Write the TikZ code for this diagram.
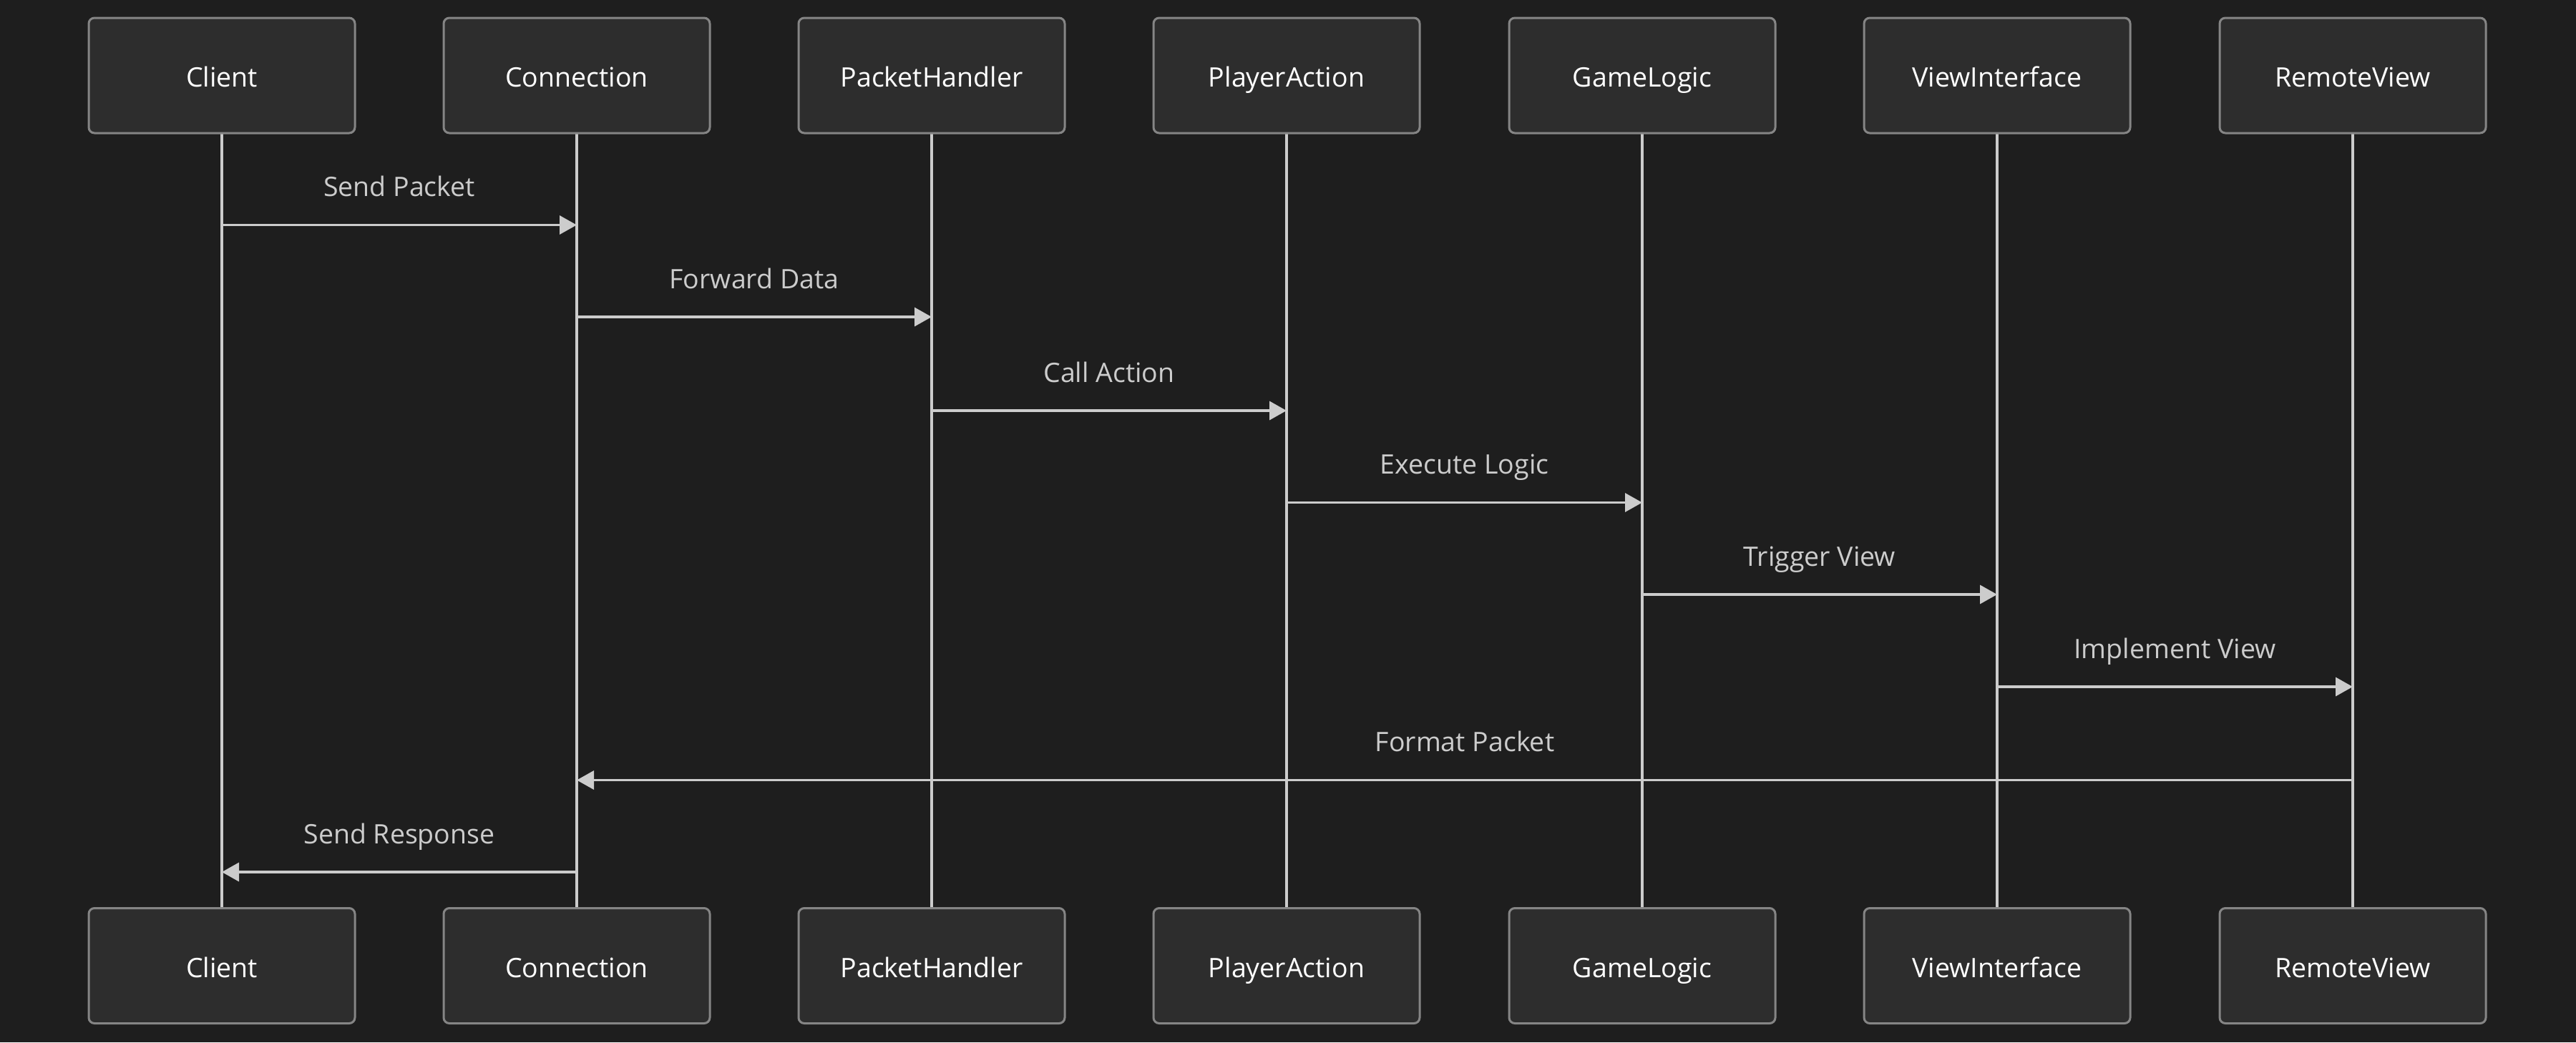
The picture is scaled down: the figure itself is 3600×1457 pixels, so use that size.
\documentclass[tikz,border=0pt]{standalone}
\usepackage{fontspec}
\setmainfont{Open Sans}
\usetikzlibrary{arrows.meta}
\definecolor{bg}{HTML}{1E1E1E}
\definecolor{boxfill}{HTML}{2D2D2D}
\definecolor{boxline}{HTML}{858585}
\definecolor{lifec}{HTML}{CCCCCC}
\definecolor{msgtext}{HTML}{CCCCCC}
\tikzset{
  actor/.style={draw=boxline, line width=3pt, fill=boxfill, rounded corners=8pt,
    minimum width=372pt, minimum height=161pt, text=white, inner sep=0pt,
    text height=32pt, text depth=0pt,
    font=\fontsize{37.5}{40}\selectfont},
  lifeline/.style={draw=lifec, line width=4.5pt},
  msg/.style={draw=lifec, line width=3.5pt, -{Triangle[length=24pt,width=26pt]}},
  msglabel/.style={text=msgtext, font=\fontsize{37.5}{40}\selectfont, inner sep=0pt,
    anchor=base, yshift=40pt}
}
\begin{document}
\begin{tikzpicture}[x=1pt,y=-1pt]
\fill[bg] (0,0) rectangle (3600,1457);
\useasboundingbox (0,0) rectangle (3600,1457);
\draw[lifeline] (310,186) -- (310,1270);
\draw[lifeline] (806,186) -- (806,1270);
\draw[lifeline] (1302,186) -- (1302,1270);
\draw[lifeline] (1798,186) -- (1798,1270);
\draw[lifeline] (2295,186) -- (2295,1270);
\draw[lifeline] (2791,186) -- (2791,1270);
\draw[lifeline] (3288,186) -- (3288,1270);
\foreach \i/\x/\name in {1/310/Client,2/806/Connection,3/1302/PacketHandler,4/1798/PlayerAction,5/2295/GameLogic,6/2791/ViewInterface,7/3288/RemoteView}{
  \node[actor] (t\i) at (\x,105.5) {\name};
  \node[actor] (b\i) at (\x,1350) {\name};
}
% message rows
\coordinate (m1) at (0,314.5);
\coordinate (m2) at (0,443);
\coordinate (m3) at (0,574);
\coordinate (m4) at (0,702.5);
\coordinate (m5) at (0,831);
\coordinate (m6) at (0,960);
\coordinate (m7) at (0,1090.5);
\coordinate (m8) at (0,1219);
\draw[msg] (t1 |- m1) -- node[msglabel] {Send Packet} (t2 |- m1);
\draw[msg] (t2 |- m2) -- node[msglabel] {Forward Data} (t3 |- m2);
\draw[msg] (t3 |- m3) -- node[msglabel] {Call Action} (t4 |- m3);
\draw[msg] (t4 |- m4) -- node[msglabel] {Execute Logic} (t5 |- m4);
\draw[msg] (t5 |- m5) -- node[msglabel] {Trigger View} (t6 |- m5);
\draw[msg] (t6 |- m6) -- node[msglabel] {Implement View} (t7 |- m6);
\draw[msg] (t7 |- m7) -- node[msglabel] {Format Packet} (t2 |- m7);
\draw[msg] (t2 |- m8) -- node[msglabel] {Send Response} (t1 |- m8);
\end{tikzpicture}
\end{document}
